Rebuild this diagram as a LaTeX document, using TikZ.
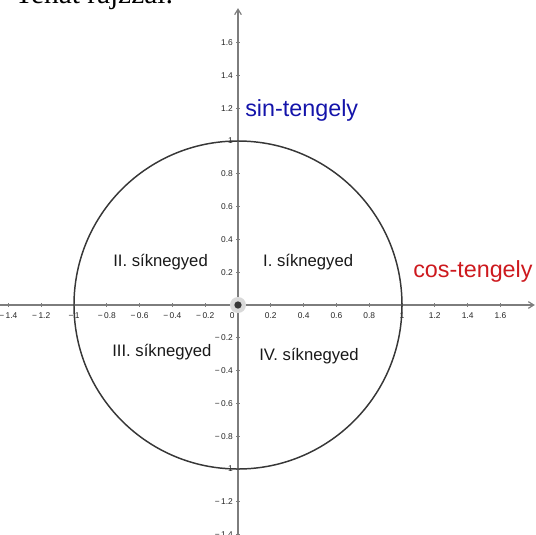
\documentclass[tikz,border=0pt]{standalone}
\usepackage{fontspec}
\setmainfont{Liberation Sans}
\newfontfamily\headfont{Liberation Serif}
\usepackage{tikz}
\usetikzlibrary{arrows.meta, positioning}
\definecolor{axisgray}{RGB}{125, 125, 125}
\definecolor{circlegray}{RGB}{55, 55, 55}
\definecolor{sinblue}{RGB}{20, 20, 170}
\definecolor{cosred}{RGB}{205, 25, 30}

\begin{document}
\begin{tikzpicture}[x=123pt, y=123pt,
    axis/.style={draw=axisgray, line width=0.9pt},
    ticklbl/.style={font=\fontsize{6.3}{7}\selectfont, text=black!85, inner sep=0pt},
    quadlbl/.style={font=\fontsize{12.5}{14}\selectfont, text=black!90, anchor=base west, inner sep=0pt},
    axislbl/.style={font=\fontsize{17.5}{20}\selectfont, anchor=base west, inner sep=0pt}]
  \useasboundingbox (-1.4512,-1.4024) rectangle (1.8171,1.8598);

  % cut-off heading at the top
  \node[font=\headfont\fontsize{22}{26}\selectfont, anchor=base west, inner sep=0pt] (head) at (-1.36,1.841) {Tehát rajzzal:};

  % axes
  \coordinate (xmin) at (-1.46,0);
  \coordinate (xmax) at (1.81,0);
  \coordinate (ymin) at (0,-1.41);
  \coordinate (ymax) at (0,1.81);
  \draw[axis, -{Straight Barb[length=4pt, width=5pt]}] (xmin) -- (xmax);
  \draw[axis, -{Straight Barb[length=4pt, width=5pt]}] (ymin) -- (ymax);

  % ticks and tick labels
  \foreach \v/\lbl [count=\i] in {-1.4/−\,1.4, -1.2/−\,1.2, -1/−\,1, -0.8/−\,0.8, -0.6/−\,0.6, -0.4/−\,0.4, -0.2/−\,0.2,
      0.2/0.2, 0.4/0.4, 0.6/0.6, 0.8/0.8, 1/1, 1.2/1.2, 1.4/1.4, 1.6/1.6} {
    \draw[axis, line width=0.6pt] (\v,0.012) -- (\v,-0.012);
    \node[ticklbl, anchor=north] (xtick\i) at (\v,-0.045) {\lbl};
    \draw[axis, line width=0.6pt] (-0.012,\v) -- (0.012,\v);
    \node[ticklbl, anchor=east] (ytick\i) at (-0.03,\v) {\lbl};
  }
  \node[ticklbl, anchor=north east] (zero) at (-0.02,-0.045) {0};

  % unit circle
  \node[draw=circlegray, line width=1.1pt, circle, minimum size=246pt, inner sep=0pt] (unit) at (0,0) {};

  % origin
  \fill[black!15] (0,0) circle (6pt);
  \node[circle, fill=circlegray, inner sep=0pt, minimum size=5.5pt] (origin) at (0,0) {};

  % axis names
  \node[axislbl, text=sinblue] (sinlbl) at (0.043,1.152) {sin-tengely};
  \node[axislbl, text=cosred] (coslbl) at (1.067,0.165) {cos-tengely};

  % quadrants
  \node[quadlbl] (q1) at (0.152,0.232) {I. síknegyed};
  \node[quadlbl] (q2) at (-0.762,0.232) {II. síknegyed};
  \node[quadlbl] (q3) at (-0.768,-0.317) {III. síknegyed};
  \node[quadlbl] (q4) at (0.128,-0.341) {IV. síknegyed};
\end{tikzpicture}
\end{document}
